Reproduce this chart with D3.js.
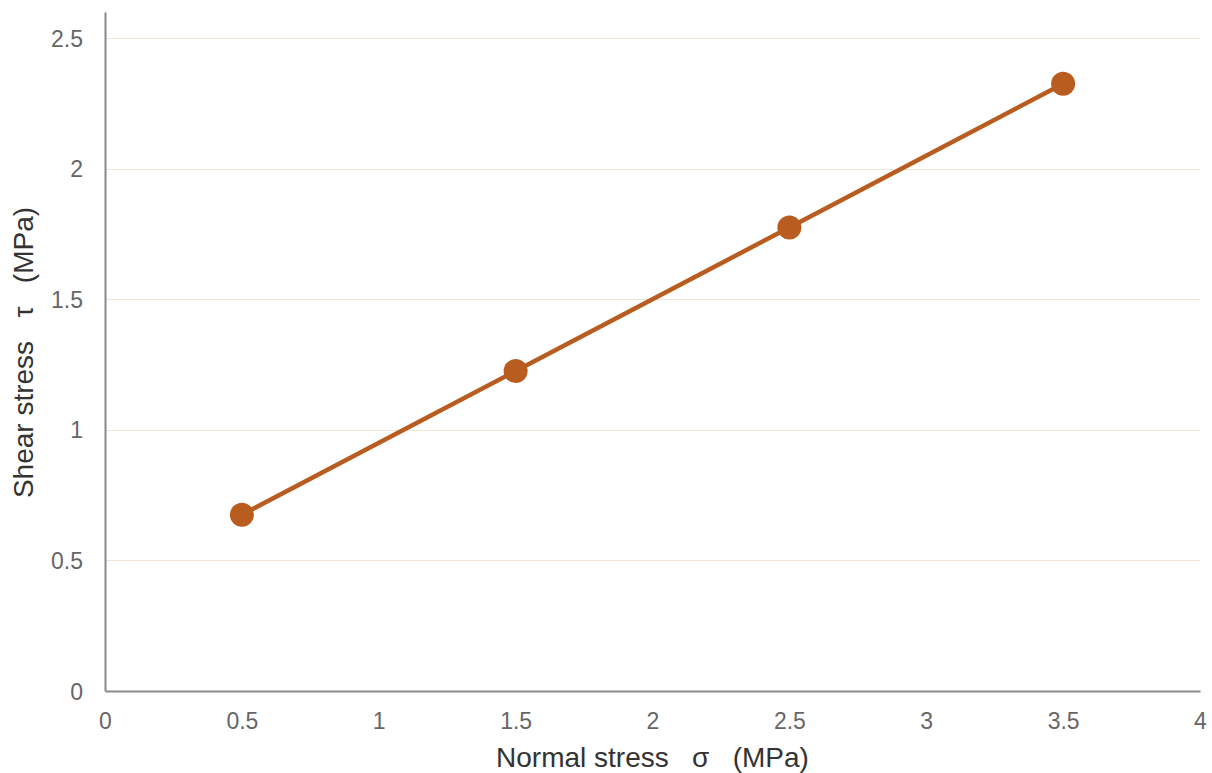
<!DOCTYPE html>
<html>
<head>
<meta charset="utf-8">
<script src="https://cdn.jsdelivr.net/npm/d3@7"></script>
<style>
  body { margin: 0; background: #fff; }
  text { font-family: "Liberation Sans", Arial, sans-serif; }
</style>
</head>
<body>
<svg id="chart" width="1212" height="773"></svg>
<script>
// data
var normalStress = [0.5, 1.5, 2.5, 3.5];
var shearStress = [0.675, 1.225, 1.775, 2.325];
var xTicks = [0, 0.5, 1, 1.5, 2, 2.5, 3, 3.5, 4];
var yTicks = [0, 0.5, 1, 1.5, 2, 2.5];

var svg = d3.select("#chart");
// plot box (don't call it "top", that's window.top)
var plotLeft = 105, plotRight = 1200, plotTop = 12, plotBottom = 691;

var x = d3.scaleLinear().domain([0, 4]).range([plotLeft, plotRight]);
var y = d3.scaleLinear().domain([0, 2.6]).range([plotBottom, plotTop]);

// gridlines
svg.append("g").selectAll("line").data(yTicks.filter(function(d) { return d > 0; })).enter()
    .append("line")
        .attr("x1", plotLeft + 1)
        .attr("x2", plotRight)
        .attr("y1", function(d) { return Math.round(y(d)) + 0.5; })
        .attr("y2", function(d) { return Math.round(y(d)) + 0.5; })
        .attr("stroke", "#f2e6d4")
        .attr("stroke-width", 1);

// axes
var xAxis = svg.append("g")
    .attr("transform", "translate(0," + plotBottom + ")")
    .call(d3.axisBottom(x).tickValues(xTicks).tickSize(0).tickPadding(22).tickFormat(d3.format("")));
var yAxis = svg.append("g")
    .attr("transform", "translate(" + plotLeft + ",0)")
    .call(d3.axisLeft(y).tickValues(yTicks).tickSize(0).tickPadding(22).tickFormat(d3.format("")));

[xAxis, yAxis].forEach(function(a) {
    a.select(".domain").attr("stroke", "#898989").attr("stroke-width", 2);
    a.selectAll("text").attr("fill", "#666").attr("font-size", "23px")
        .attr("font-family", "'Liberation Sans', Arial, sans-serif");
});
yAxis.selectAll("text").attr("dy", "0.35em");

// line + markers
var line = d3.line()
    .x(function(d, i) { return x(normalStress[i]); })
    .y(function(d) { return y(d); });

svg.append("path")
    .datum(shearStress)
    .attr("d", line)
    .attr("fill", "none")
    .attr("stroke", "#b95c1f")
    .attr("stroke-width", 4.5);

svg.append("g").selectAll("circle").data(shearStress).enter()
    .append("circle")
        .attr("cx", function(d, i) { return x(normalStress[i]); })
        .attr("cy", function(d) { return y(d); })
        .attr("r", 12)
        .attr("fill", "#b95c1f");

// axis titles
svg.append("text")
    .attr("x", (plotLeft + plotRight) / 2)
    .attr("y", 767)
    .attr("text-anchor", "middle")
    .attr("font-size", "28px")
    .attr("fill", "#333")
    .style("white-space", "pre")
    .text("Normal stress   σ   (MPa)");

svg.append("text")
    .attr("transform", "translate(33," + ((plotTop + plotBottom) / 2 + 1) + ") rotate(-90)")
    .attr("text-anchor", "middle")
    .attr("font-size", "28px")
    .attr("fill", "#333")
    .style("white-space", "pre")
    .text("Shear stress   τ   (MPa)");
</script>
</body>
</html>
